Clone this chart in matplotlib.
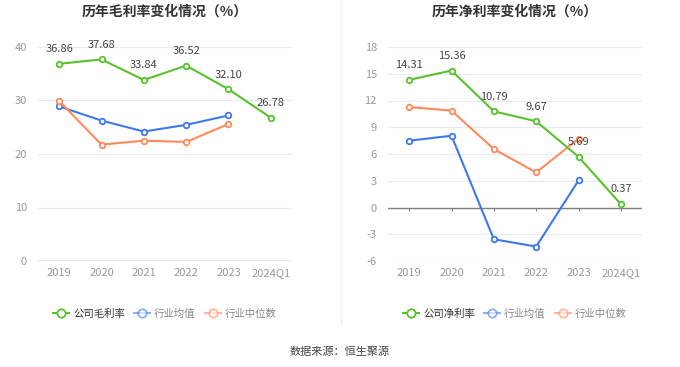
import matplotlib
matplotlib.use("Agg")
import matplotlib.pyplot as plt
import numpy as np
from matplotlib.lines import Line2D

plt.rcParams['font.family'] = ['Noto Sans CJK SC', 'DejaVu Sans']

# ------- data
years = ['2019', '2020', '2021', '2022', '2023', '2024Q1']

gross_company = [36.86, 37.68, 33.84, 36.52, 32.10, 26.78]
gross_avg = [28.9, 26.25, 24.2, 25.45, 27.2]
gross_median = [29.9, 21.75, 22.5, 22.25, 25.6]

net_company = [14.31, 15.36, 10.79, 9.67, 5.69, 0.37]
net_avg = [7.49, 8.05, -3.56, -4.38, 3.03]
net_median = [11.27, 10.86, 6.55, 3.93, 7.71]

left_title = '历年毛利率变化情况（%）'
right_title = '历年净利率变化情况（%）'
left_labels = ['公司毛利率', '行业均值', '行业中位数']
right_labels = ['公司净利率', '行业均值', '行业中位数']
source = '数据来源：恒生聚源'

GREEN = '#58c22e'
BLUE = '#3f78ea'
ORANGE = '#ff8a5b'
GRID = '#e6ebf3'
TICK = '#999999'

W, H = 680, 367
fig = plt.figure(figsize=(W / 100, H / 100), dpi=100)


def px_axes(x0, y0, x1, y1):
    return fig.add_axes([x0 / W, 1 - y1 / H, (x1 - x0) / W, (y1 - y0) / H])


def draw_panel(ax, company, avg, median, ylim, yticks, title, labels):
    x = np.arange(len(years))
    ax.set_xlim(-0.5, len(years) - 0.5)
    ax.set_ylim(*ylim)
    ax.set_yticks(yticks)
    ax.set_yticklabels([str(t) for t in yticks])
    ax.set_xticks(x)
    ax.set_xticklabels(years)
    ax.grid(axis='y', color=GRID, linewidth=0.8)
    ax.set_axisbelow(True)
    for s in ['top', 'right', 'left', 'bottom']:
        ax.spines[s].set_visible(False)
    ax.tick_params(axis='y', length=0, labelsize=8, labelcolor=TICK, pad=8)
    ax.tick_params(axis='x', length=0, labelsize=8, labelcolor=TICK, pad=5)

    # axis line at zero with small tick marks
    ax.axhline(0, color='#7f7f7f', linewidth=1, zorder=2)
    tl = (ylim[1] - ylim[0]) * 0.018
    ax.vlines(x, 0 - tl, 0, color='#7f7f7f', linewidth=0.8, zorder=2)

    mk = dict(marker='o', markersize=4, markerfacecolor='white', markeredgewidth=1.3)
    ax.plot(x, company, color=GREEN, linewidth=1.5, zorder=4, **mk)
    ax.plot(x[:len(avg)], avg, color=BLUE, linewidth=1.5, zorder=3, **mk)
    ax.plot(x[:len(median)], median, color=ORANGE, linewidth=1.5, zorder=3, **mk)

    for xi, v in zip(x, company):
        ax.annotate(f'{v:.2f}', (xi, v), xytext=(0, 7), textcoords='offset points',
                    ha='center', va='bottom', fontsize=8, color='#444444', zorder=5)

    # title, centred over the plot area
    pos = ax.get_position()
    fig.text(pos.x0 + pos.width / 2, 1 - 12 / H, title, ha='center', va='center',
             fontsize=10, fontweight='bold', color='#333333')

    lmk = dict(marker='o', markersize=6, markerfacecolor='white', markeredgewidth=1.3)
    handles = [Line2D([], [], color=c, linewidth=1.5, **lmk) for c in (GREEN, BLUE, ORANGE)]
    handles[1].set_alpha(0.6)
    handles[2].set_alpha(0.6)
    leg = ax.legend(handles, labels, loc='center', bbox_to_anchor=(0.5, -0.245), ncol=3,
                    frameon=False, fontsize=7.5, handlelength=1.5, columnspacing=0.9,
                    handletextpad=0.4)
    for i, t in enumerate(leg.get_texts()):
        t.set_color('#333333' if i == 0 else '#888888')


ax1 = px_axes(38, 47, 292, 261)
draw_panel(ax1, gross_company, gross_avg, gross_median, (0, 40), [0, 10, 20, 30, 40],
           left_title, left_labels)

ax2 = px_axes(388, 47, 642, 261)
draw_panel(ax2, net_company, net_avg, net_median, (-6, 18), [-6, -3, 0, 3, 6, 9, 12, 15, 18],
           right_title, right_labels)

# divider
fig.add_artist(Line2D([341 / W, 341 / W], [1 - 325 / H, 1.0], color='#f0f0f0', linewidth=1))

fig.text(0.5, 1 - 352 / H, source, ha='center', va='center', fontsize=8, color='#444444')

fig.savefig('out.png', dpi=100)
